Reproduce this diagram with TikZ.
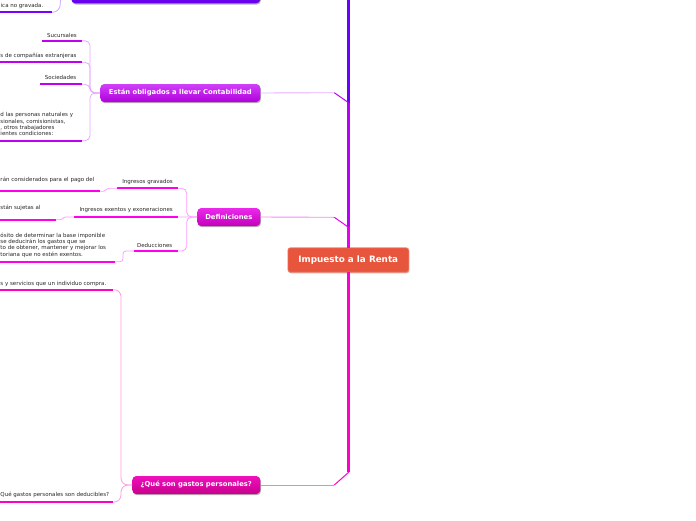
\documentclass[tikz,border=0pt]{standalone}
\usepackage{fontspec}
\setmainfont{DejaVu Sans}
\usetikzlibrary{shadows}
\definecolor{txt}{HTML}{262626}
\definecolor{rootred}{HTML}{E8553D}
\definecolor{rootedge}{HTML}{F08A78}
% top (violet)
\definecolor{cZ}{HTML}{6A00FF}
\definecolor{cZl}{HTML}{B890FF}
\definecolor{cZu}{HTML}{7A00FF}
\definecolor{cZb}{HTML}{C8A8FF}
\definecolor{cZt}{HTML}{7800FF}
\definecolor{cZtb}{HTML}{6600EC}
% obligados (purple)
\definecolor{cA}{HTML}{B800FF}
\definecolor{cAl}{HTML}{E6B0FF}
\definecolor{cAu}{HTML}{C000F0}
\definecolor{cAb}{HTML}{E4A8FF}
\definecolor{cAt}{HTML}{D040F8}
\definecolor{cAtb}{HTML}{B000DC}
% definiciones (magenta)
\definecolor{cB}{HTML}{E800F0}
\definecolor{cBl}{HTML}{F08CF5}
\definecolor{cBu}{HTML}{FF00EE}
\definecolor{cBb}{HTML}{FF9CFF}
\definecolor{cBt}{HTML}{EC28EC}
\definecolor{cBtb}{HTML}{C400BC}
% gastos (pink)
\definecolor{cC}{HTML}{FF00CC}
\definecolor{cCl}{HTML}{FF77D4}
\definecolor{cCu}{HTML}{FF00C8}
\definecolor{cCb}{HTML}{FF9CE0}
\definecolor{cCt}{HTML}{F010BC}
\definecolor{cCtb}{HTML}{C8008E}
\begin{document}
\begin{tikzpicture}[x=1pt,y=-1pt,
  topic/.style={rounded corners=4pt, text=white, anchor=east,
    font=\fontsize{6.8}{7.5}\selectfont\bfseries, minimum height=18pt, inner sep=0pt,
    drop shadow={shadow xshift=0.6pt, shadow yshift=-1.2pt, opacity=0.3, fill=black}},
  rootbox/.style={rounded corners=2.5pt, fill=rootred, draw=rootedge, line width=0.6pt,
    text=white, font=\fontsize{8.8}{10}\selectfont\bfseries, minimum width=121pt,
    minimum height=24.5pt, inner sep=0pt,
    drop shadow={shadow xshift=0.5pt, shadow yshift=-1pt, opacity=0.25, fill=black}},
  sub/.style={font=\fontsize{5.5}{6.3}\selectfont, text=txt, inner sep=0pt, align=left},
  ul/.style={line width=2pt},
  br/.style={line width=0.8pt, rounded corners=5pt},
  thinl/.style={line width=0.9pt},
  trunk/.style={line width=3pt},
]
\useasboundingbox (0,0) rectangle (696,520);
\clip (0,0) rectangle (696,520);

% ---------- main nodes ----------
\node[rootbox] (root) at (348.3,260) {Impuesto a la Renta};
\node[topic, minimum width=189pt, top color=cZt, bottom color=cZtb] (t0) at (260.5,-5.7) {};
\node[topic, minimum width=160pt, top color=cAt, bottom color=cAtb] (obl) at (260.5,93) {Están obligados a llevar Contabilidad};
\node[topic, minimum width=63pt, top color=cBt, bottom color=cBtb] (def) at (260.5,217) {Definiciones};
\node[topic, minimum width=128pt, top color=cCt, bottom color=cCtb] (gas) at (260.5,485) {¿Qué son gastos personales?};

% ---------- trunk connectors ----------
\coordinate (h0) at (334.3,-12);
\coordinate (d0) at (348.6,-2);
\coordinate (h1) at (334.3,92.7);
\coordinate (d1) at (348.6,102.7);
\coordinate (h2) at (334.3,217.3);
\coordinate (d2) at (348.6,227.3);
\coordinate (h3) at (334.3,485);
\coordinate (d3) at (348.6,472.3);
\coordinate (rn) at (348.6,248);
\coordinate (rs) at (348.6,272);

\draw[thinl, cZl] (t0.east) -- (h0);
\draw[line width=1pt, cZ] (h0) -- (d0);
\draw[trunk, cZ] (d0) -- (rn);

\draw[thinl, cAl] (obl.east) -- (h1);
\draw[line width=1pt, cA] (h1) -- (d1);
\draw[trunk, cA] (d1) -- (rn);

\draw[thinl, cBl] (def.east) -- (h2);
\draw[line width=1pt, cB] (h2) -- (d2);
\draw[trunk, cB] (d2) -- (rn);

\draw[trunk, cC] (rs) -- (d3);
\draw[line width=1pt, cC] (d3) -- (h3);
\draw[thinl, cCl] (h3) -- (gas.east);

% ---------- top topic child ----------
\node[sub, anchor=base west] (k0) at (0.5,7.8) {ica no gravada.};
\coordinate (k0s) at (-5,12.3);
\coordinate (k0e) at (52,12.3);
\draw[ul, cZu] (k0s) -- (k0e);
\draw[br, cZb, rounded corners=8pt] (k0e) -- (60.3,12.3) -- (60.3,-5.7) -- (t0.west);

% ---------- Están obligados children ----------
\node[sub, anchor=base east] (a1) at (77,37) {Sucursales};
\coordinate (a1s) at (42,40.7); \coordinate (a1e) at (82,40.7);
\node[sub, anchor=base west] (a2) at (0.3,57.7) {s de compañías extranjeras};
\coordinate (a2s) at (-5,62.3); \coordinate (a2e) at (82,62.3);
\node[sub, anchor=base east] (a3) at (76.5,79.7) {Sociedades};
\coordinate (a3s) at (40,84.3); \coordinate (a3e) at (82,84.3);
\node[sub, anchor=north west] (a4) at (0.3,112.4) {d las personas naturales y\\sionales, comisionistas,\\, otros trabajadores\\ientes condiciones:};
\coordinate (a4s) at (-5,140.7); \coordinate (a4e) at (82,140.7);
\foreach \s/\e in {a1s/a1e,a2s/a2e,a3s/a3e,a4s/a4e}{\draw[ul, cAu] (\s) -- (\e);}
\draw[br, cAb] (a1e) -- (90,40.7) -- (90,93) -- (obl.west);
\draw[br, cAb] (a2e) -- (90,62.3) -- (90,93) -- (obl.west);
\draw[br, cAb] (a3e) -- (90,84.3) -- (90,93) -- (obl.west);
\draw[br, cAb] (a4e) -- (90,140.7) -- (90,93) -- (obl.west);

% ---------- Definiciones children ----------
\node[sub, anchor=base east] (b1) at (173,183.7) {Ingresos gravados};
\coordinate (b1s) at (117,188.3); \coordinate (b1e) at (178,188.3);
\node[sub, anchor=base east] (b2) at (173,211.3) {Ingresos exentos y exoneraciones};
\coordinate (b2s) at (74,216.9); \coordinate (b2e) at (178,216.9);
\node[sub, anchor=base east] (b3) at (172.5,247) {Deducciones};
\coordinate (b3s) at (134,251); \coordinate (b3e) at (178,251);
\foreach \s/\e in {b1s/b1e,b2s/b2e,b3s/b3e}{\draw[ul, cBu] (\s) -- (\e);}
\draw[br, cBb] (b1e) -- (186.7,188.3) -- (186.7,217) -- (def.west);
\draw[br, cBb] (b2e) -- (def.west);
\draw[br, cBb] (b3e) -- (186.7,251) -- (186.7,217) -- (def.west);

% grandchildren of Definiciones
\node[sub, anchor=base west] (g1) at (0.3,181) {rán considerados para el pago del};
\coordinate (g1s) at (-5,191.3); \coordinate (g1e) at (100,191.3);
\node[sub, anchor=base west] (g2) at (0.3,209) {stán sujetas al};
\coordinate (g2s) at (-5,219.7); \coordinate (g2e) at (56,219.7);
\node[sub, anchor=north west] (g3) at (0.3,232.6) {ósito de determinar la base imponible\\se deducirán los gastos que se\\to de obtener, mantener y mejorar los\\toriana que no estén exentos.};
\coordinate (g3s) at (-5,261.7); \coordinate (g3e) at (115,261.7);
\foreach \s/\e in {g1s/g1e,g2s/g2e,g3s/g3e}{\draw[ul, cBu] (\s) -- (\e);}
\draw[br, cBb, rounded corners=1pt] (g1e) -- (104,191.3) -- (108,188.3) -- (b1s);
\draw[br, cBb, rounded corners=1pt] (g2e) -- (61,219.7) -- (65,216.9) -- (b2s);
\draw[br, cBb, rounded corners=3pt] (g3e) -- (123,261.7) -- (123,251) -- (b3s);

% ---------- Gastos children ----------
\node[sub, anchor=base west] (c1) at (0.3,285.3) {s y servicios que un individuo compra.};
\coordinate (c1s) at (-5,289.7); \coordinate (c1e) at (113,289.7);
\node[sub, anchor=base west] (c2) at (0.3,496) {Qué gastos personales son deducibles?};
\coordinate (c2s) at (-5,502); \coordinate (c2e) at (113,502);
\foreach \s/\e in {c1s/c1e,c2s/c2e}{\draw[ul, cCu] (\s) -- (\e);}
\draw[br, cCb, rounded corners=7pt] (c1e) -- (121,289.7) -- (121,485) -- (gas.west);
\draw[br, cCb, rounded corners=7pt] (c2e) -- (121,502) -- (121,485) -- (gas.west);
\end{tikzpicture}
\end{document}
